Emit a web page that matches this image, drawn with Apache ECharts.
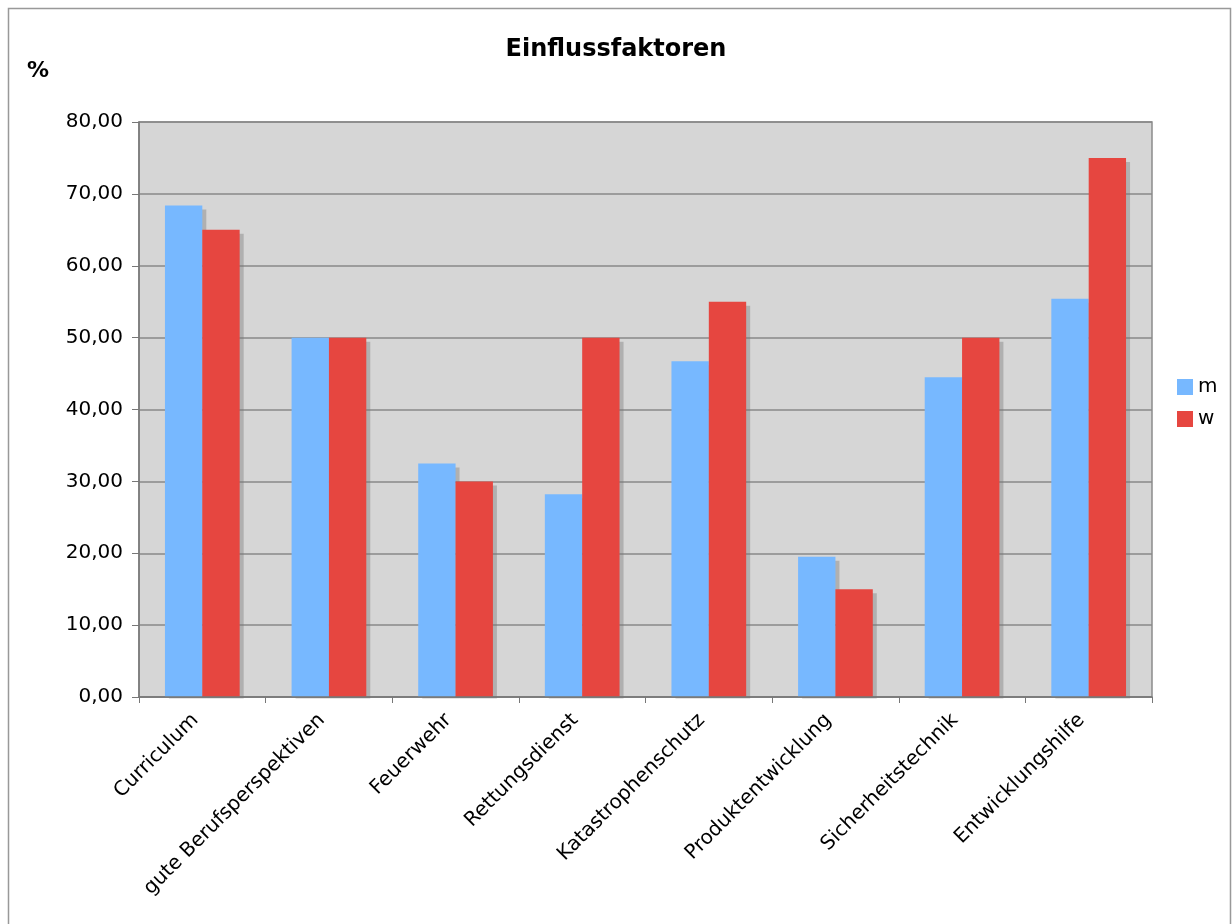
<!DOCTYPE html>
<html>
<head>
<meta charset="utf-8">
<script src="https://cdn.jsdelivr.net/npm/echarts@6/dist/echarts.min.js"></script>
<style>
  html, body { margin: 0; padding: 0; background: #fff; }
  #chart { width: 1232px; height: 924px; }
</style>
</head>
<body>
<div id="chart"></div>
<script>
// Kategorien und Werte (in %)
var categories = ['Curriculum', 'gute Berufsperspektiven', 'Feuerwehr', 'Rettungsdienst',
  'Katastrophenschutz', 'Produktentwicklung', 'Sicherheitstechnik', 'Entwicklungshilfe'];
var valuesM = [68.4, 50, 32.5, 28.2, 46.7, 19.5, 44.5, 55.4];
var valuesW = [65, 50, 30, 50, 55, 15, 50, 75];

var font = 'DejaVu Sans';

var chart = echarts.init(document.getElementById('chart'));
chart.setOption({
  animation: false,
  backgroundColor: '#fff',
  textStyle: { fontFamily: font },
  graphic: [{
    // Rahmen um das Diagramm
    type: 'rect',
    shape: { x: 8.5, y: 8.5, width: 1222, height: 930 },
    style: { fill: null, stroke: '#999', lineWidth: 1.5 },
    silent: true
  }, {
    // Schatten unter der x-Achse abdecken
    type: 'rect',
    z: 5,
    shape: { x: 141, y: 698.5, width: 1015, height: 6 },
    style: { fill: '#fff' },
    silent: true
  }],
  title: [
    { text: 'Einflussfaktoren', left: 'center', top: 33,
      textStyle: { fontFamily: font, fontSize: 24, fontWeight: 'bold', color: '#000' } },
    { text: '%', left: 22, top: 55,
      textStyle: { fontFamily: font, fontSize: 22, fontWeight: 'bold', color: '#000' } }
  ],
  legend: {
    orient: 'vertical',
    left: 1172,
    top: 372,
    itemWidth: 16,
    itemHeight: 16,
    itemGap: 12,
    icon: 'rect',
    textStyle: { fontFamily: font, fontSize: 20, color: '#000' },
    data: ['m', 'w']
  },
  grid: {
    left: 139,
    right: 80,
    top: 122,
    bottom: 227,
    show: true,
    backgroundColor: '#d6d6d6',
    borderColor: '#8c8c8c',
    borderWidth: 1.5
  },
  xAxis: {
    type: 'category',
    z: 10,
    data: categories,
    axisLine: { lineStyle: { color: '#777', width: 1.5 } },
    axisTick: { show: true, length: 6, alignWithLabel: false, lineStyle: { color: '#777' } },
    axisLabel: {
      interval: 0,
      rotate: 45,
      margin: 13,
      padding: [0, 10, 0, 0],
      fontFamily: font,
      fontSize: 20,
      color: '#000'
    }
  },
  yAxis: {
    type: 'value',
    min: 0,
    max: 80,
    interval: 10,
    axisLine: { show: true, lineStyle: { color: '#777', width: 1.5 } },
    axisTick: { show: true, inside: false, length: 7, lineStyle: { color: '#777' } },
    axisLabel: {
      margin: 16,
      fontFamily: font,
      fontSize: 20,
      color: '#000',
      formatter: function (v) { return v.toFixed(2).replace('.', ','); }
    },
    splitLine: { lineStyle: { color: '#888', width: 1.5 } }
  },
  series: [{
    name: 'm',
    type: 'bar',
    data: valuesM,
    barGap: '0%',
    barCategoryGap: '41%',
    itemStyle: {
      color: '#77b8ff',
      shadowColor: 'rgba(120,120,120,0.4)',
      shadowOffsetX: 4,
      shadowOffsetY: 4,
      shadowBlur: 0
    }
  }, {
    name: 'w',
    type: 'bar',
    data: valuesW,
    itemStyle: {
      color: '#e64640',
      shadowColor: 'rgba(120,120,120,0.4)',
      shadowOffsetX: 4,
      shadowOffsetY: 4,
      shadowBlur: 0
    }
  }]
});
</script>
</body>
</html>
